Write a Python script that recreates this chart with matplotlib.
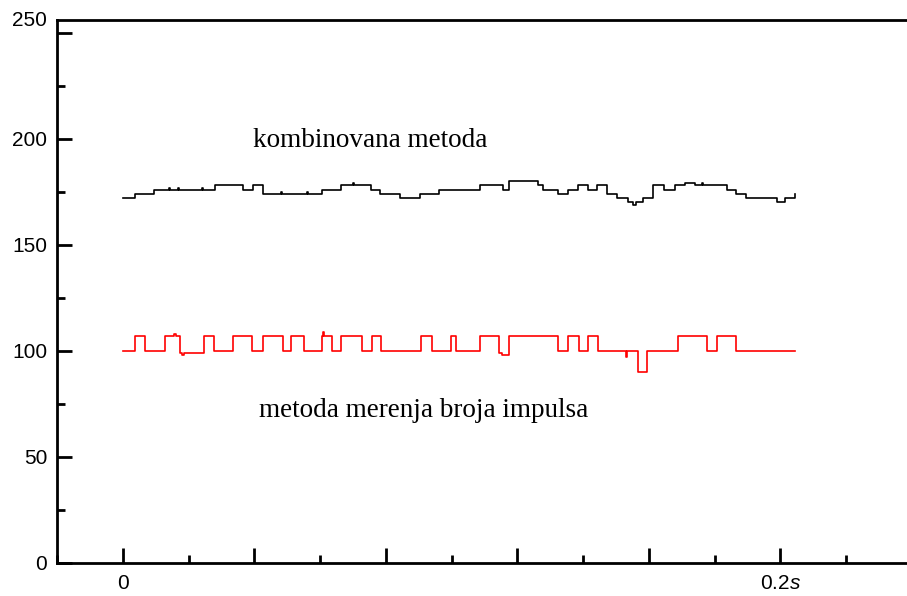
import matplotlib.pyplot as plt
import numpy as np
from matplotlib.ticker import MultipleLocator
from matplotlib.transforms import ScaledTranslation

plt.rcParams['font.family'] = ['Liberation Sans', 'DejaVu Sans']
plt.rcParams['mathtext.fontset'] = 'custom'
plt.rcParams['mathtext.rm'] = 'Liberation Sans'
plt.rcParams['mathtext.it'] = 'Liberation Sans:italic'

# combined method: step breakpoints (time in s, value)
komb_t = [0.0000, 0.0037, 0.0096, 0.0140, 0.0143, 0.0167, 0.0170, 0.0240, 0.0243,
          0.0279, 0.0366, 0.0395, 0.0426, 0.0480, 0.0483, 0.0560, 0.0563, 0.0605,
          0.0663, 0.0700, 0.0703, 0.0754, 0.0783, 0.0843, 0.0904, 0.0963, 0.1087,
          0.1157, 0.1175, 0.1263, 0.1278, 0.1324, 0.1355, 0.1385, 0.1415, 0.1443,
          0.1473, 0.1503, 0.1535, 0.1552, 0.1560, 0.1582, 0.1612, 0.1646, 0.1679,
          0.1710, 0.1740, 0.1760, 0.1763, 0.1837, 0.1866, 0.1896, 0.1990, 0.2015,
          0.2045]
komb_v = [172, 174, 176, 177, 176, 177, 176, 177, 176,
          178, 176, 178, 174, 175, 174, 175, 174, 176,
          178, 179, 178, 176, 174, 172, 174, 176, 178,
          176, 180, 178, 176, 174, 176, 178, 176, 178,
          174, 172, 170, 169, 170, 172, 178, 176, 178,
          179, 178, 179, 178, 176, 174, 172, 170, 172,
          174]

# pulse counting method
imp_t = [0.0000, 0.0037, 0.0068, 0.0127, 0.0157, 0.0162, 0.0175, 0.0179, 0.0187,
         0.0246, 0.0278, 0.0336, 0.0394, 0.0425, 0.0486, 0.0513, 0.0550, 0.0607,
         0.0608, 0.0611, 0.0637, 0.0664, 0.0728, 0.0758, 0.0786, 0.0907, 0.0940,
         0.0998, 0.1013, 0.1087, 0.1145, 0.1152, 0.1176, 0.1325, 0.1355, 0.1386,
         0.1416, 0.1446, 0.1530, 0.1534, 0.1568, 0.1594, 0.1687, 0.1776, 0.1807,
         0.1866, 0.2045]
imp_v = [100, 107, 100, 107, 108, 107, 99, 98, 99,
         107, 100, 107, 100, 107, 100, 107, 100, 107,
         109, 107, 100, 107, 100, 107, 100, 107, 100,
         107, 100, 107, 99, 98, 107, 100, 107, 100,
         107, 100, 97, 100, 90, 100, 107, 100, 107,
         100, 100]

fig = plt.figure(figsize=(9.07, 5.96), dpi=100)
ax = fig.add_axes([57 / 907, 33 / 596, (912 - 57) / 907, 543 / 596])

ax.plot(komb_t, komb_v, color='black', lw=1.2, drawstyle='steps-post')
ax.plot(imp_t, imp_v, color='red', lw=1.2, drawstyle='steps-post')

ax.text(0.0395, 199, 'kombinovana metoda', family='Liberation Serif',
        fontsize=19.5, va='center')
ax.text(0.0415, 72, 'metoda merenja broja impulsa', family='Liberation Serif',
        fontsize=19.5, va='center')

ax.set_xlim(-0.02, 0.24)
ax.set_ylim(0, 256)

xticks = [0, 0.04, 0.08, 0.12, 0.16, 0.2, 0.24]
xlabels = ['0', '', '', '', '', '0.2$\\it{s}$', '']
yticks = [0, 50, 100, 150, 200, 250]
ax.set_xticks(xticks)
ax.set_xticklabels(xlabels)
ax.set_yticks(yticks)
ax.set_yticklabels([str(v) for v in yticks])
ax.xaxis.set_minor_locator(MultipleLocator(0.02))
ax.yaxis.set_minor_locator(MultipleLocator(25))

ax.tick_params(which='both', direction='in', width=2, labelsize=15)
ax.tick_params(which='major', length=11)
ax.tick_params(which='minor', length=6)
ax.tick_params(axis='x', pad=8)
ax.tick_params(axis='y', pad=7)

for side in ['left', 'bottom', 'top']:
    ax.spines[side].set_linewidth(2)
ax.spines['right'].set_visible(False)

# top label sits at the upper edge of the frame
lbl = ax.get_yticklabels()[-1]
lbl.set_transform(lbl.get_transform() + ScaledTranslation(0, 14 / 100, fig.dpi_scale_trans))

fig.savefig('out.png', dpi=100)
